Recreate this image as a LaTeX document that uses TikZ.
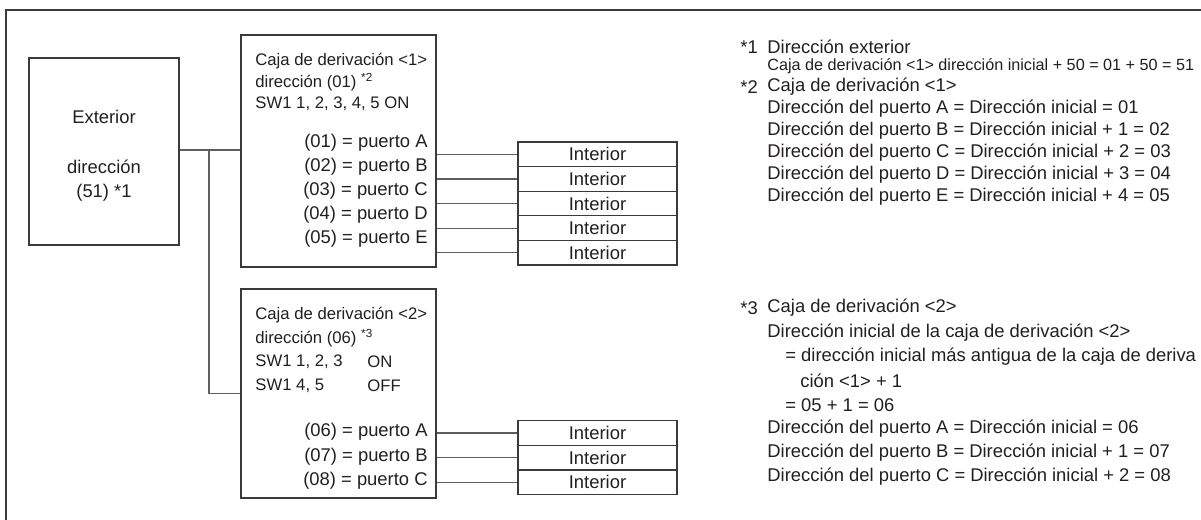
\documentclass[tikz,border=0pt]{standalone}
\usepackage{fontspec}
\setmainfont{Liberation Sans}
\usetikzlibrary{positioning}
\definecolor{dline}{HTML}{3A3A3A}
\definecolor{gline}{HTML}{5E5E5E}
\definecolor{dtext}{HTML}{231F20}
\newcommand{\fbig}{\fontsize{9.2}{11}\selectfont}
\newcommand{\fsmall}{\fontsize{8.35}{10}\selectfont}

\begin{document}
\begin{tikzpicture}[x=0.5pt, y=-0.5pt,
  box/.style={draw=dline, line width=0.6pt, inner sep=0pt},
  unit/.style={box, minimum width=79.5pt, minimum height=12.3pt, font=\fbig, text=dtext},
  wire/.style={draw=gline, line width=0.6pt},
  txt/.style={inner sep=0pt, text=dtext, font=\fbig},
  stxt/.style={txt, font=\fsmall}]
 \useasboundingbox (0,0) rectangle (1201,520);
 \fill[white] (0,0) rectangle (1201,520);
 \draw[dline, line width=0.7pt] (6,540) |- (1220,10);

 % outdoor unit
 \node[box, minimum width=75pt, minimum height=93.5pt] (ext) at (104,151.5) {};
 \node[txt] (extname) at (104,117) {Exterior};
 \node[txt] (extaddr) at (104,167) {dirección};
 \node[txt] (extnum) at (104,193) {(51) *1};

 % branch boxes
 \node[box, minimum width=97.5pt, minimum height=116pt] (br1) at (338.5,151) {};
 \node[box, minimum width=97.5pt, minimum height=104.5pt] (br2) at (338.5,393.5) {};
 \coordinate (tap) at (209,150);
 \draw[wire] (ext.east |- tap) -- (br1.west |- tap);
 \draw[wire] (tap) |- (br2.west);

 \node[stxt, anchor=west] (br1a) at (255,61) {Caja de derivación <1>};
 \node[stxt, anchor=west] (br1b) at (255,82) {dirección (01) \textsuperscript{*2}};
 \node[stxt, anchor=west] (br1c) at (255,104) {SW1 1, 2, 3, 4, 5 ON};
 \foreach \p/\l [count=\i] in {01/A,02/B,03/C,04/D,05/E}
  \node[txt, anchor=east] (p1\i) at (428,{119+24*\i}) {(\p) = puerto \l};
 \foreach \i in {1,...,5} {
  \node[unit] (in1\i) at (597.5,{129.7+24.6*\i}) {Interior};
  \draw[wire] (br1.east |- in1\i.west) -- (in1\i.west);
 }

 \node[stxt, anchor=west] (br2a) at (255,315) {Caja de derivación <2>};
 \node[stxt, anchor=west] (br2b) at (255,338) {dirección (06) \textsuperscript{*3}};
 \node[stxt, anchor=west] (br2c) at (255,362) {SW1 1, 2, 3};
 \node[stxt, anchor=west] (br2d) at (255,386) {SW1 4, 5};
 \node[stxt, anchor=west] (br2on) at (367,362) {ON};
 \node[stxt, anchor=west] (br2off) at (367,386) {OFF};
 \foreach \p/\l [count=\i] in {06/A,07/B,08/C}
  \node[txt, anchor=east] (p2\i) at (428,{407.5+24.5*\i}) {(\p) = puerto \l};
 \foreach \i in {1,...,3} {
  \node[unit] (in2\i) at (597.5,{408.4+24.6*\i}) {Interior};
  \draw[wire] (br2.east |- in2\i.west) -- (in2\i.west);
 }

 % notes
 \node[txt, anchor=west] (n1) at (740,47) {*1};
 \node[txt, anchor=west] (n1a) at (767,47) {Dirección exterior};
 \node[txt, anchor=west, font=\fontsize{8.1}{10}\selectfont] (n1b) at (767,66) {Caja de derivación <1> dirección inicial + 50 = 01 + 50 = 51};
 \node[txt, anchor=west] (n2) at (740,87) {*2};
 \node[txt, anchor=west] (n2a) at (767,87) {Caja de derivación <1>};
 \foreach \l/\r [count=\i] in {A/= 01,B/+ 1 = 02,C/+ 2 = 03,D/+ 3 = 04,E/+ 4 = 05}
  \node[txt, anchor=west] (n2p\i) at (767,{86+22.2*\i}) {Dirección del puerto \l{} = Dirección inicial \r};

 \node[txt, anchor=west] (n3) at (740,308) {*3};
 \node[txt, anchor=west] (n3a) at (767,308) {Caja de derivación <2>};
 \node[txt, anchor=west] (n3b) at (767,333) {Dirección inicial de la caja de derivación <2>};
 \node[txt, anchor=west] (n3c) at (785,357) {= dirección inicial más antigua de la caja de deriva};
 \node[txt, anchor=west] (n3d) at (800,381) {ción <1> + 1};
 \node[txt, anchor=west] (n3e) at (785,405) {= 05 + 1 = 06};
 \foreach \l/\r [count=\i] in {A/= 06,B/+ 1 = 07,C/+ 2 = 08}
  \node[txt, anchor=west] (n3p\i) at (767,{404+24.3*\i}) {Dirección del puerto \l{} = Dirección inicial \r};
\end{tikzpicture}
\end{document}
